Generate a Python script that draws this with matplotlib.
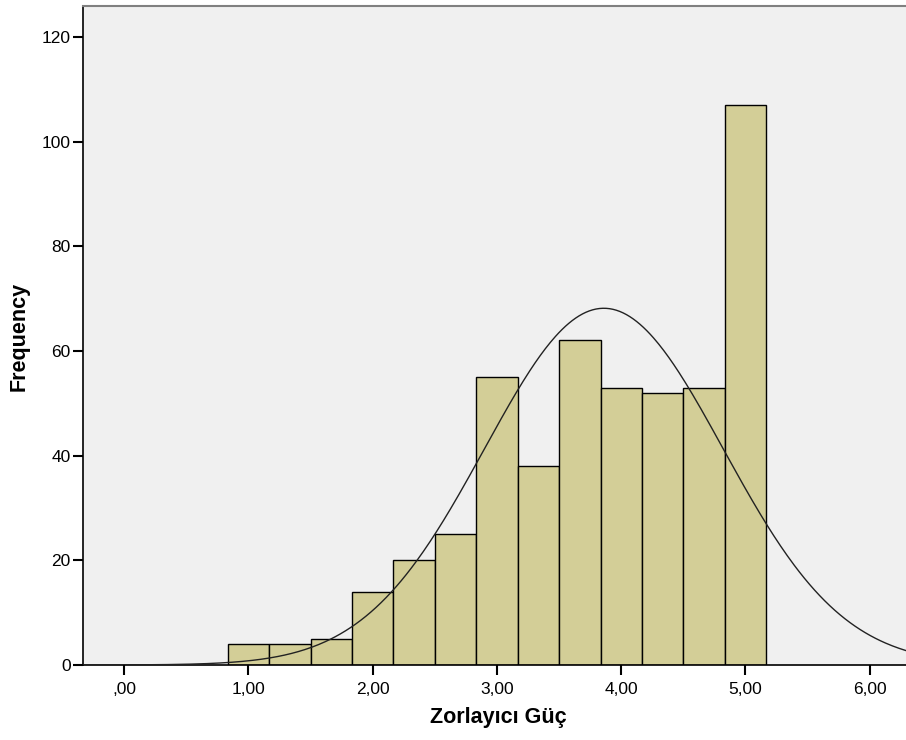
import matplotlib
matplotlib.use("Agg")
import matplotlib.pyplot as plt
import numpy as np

# Histogram bins (centers) and counts
bin_centers = [1.0, 4/3, 5/3, 2.0, 7/3, 8/3, 3.0, 10/3, 11/3, 4.0, 13/3, 14/3, 5.0]
counts = [4, 4, 5, 14, 20, 25, 55, 38, 62, 53, 52, 53, 107]
bin_width = 1/3

# normal curve parameters
curve_mean = 3.86
curve_sd = 0.96

x_ticks = [0, 1, 2, 3, 4, 5, 6]
x_ticklabels = [",00", "1,00", "2,00", "3,00", "4,00", "5,00", "6,00"]
y_ticks = [0, 20, 40, 60, 80, 100, 120]

plt.rcParams['font.family'] = ['Liberation Sans', 'DejaVu Sans']

fig = plt.figure(figsize=(9.06, 7.40), dpi=100)
ax = fig.add_axes([83/906, 75/740, 1 - 83/906, (665 - 6)/740])
ax.set_facecolor('#F0F0F0')

ax.bar(bin_centers, counts, width=bin_width, color='#D3CE97',
       edgecolor='black', linewidth=1.0, zorder=2)

n = sum(counts)
xs = np.linspace(-0.4, 6.4, 500)
ys = n * bin_width / (curve_sd * np.sqrt(2 * np.pi)) * np.exp(-0.5 * ((xs - curve_mean) / curve_sd) ** 2)
ax.plot(xs, ys, color='#222222', linewidth=1.0, zorder=3)

ax.set_xlim(-0.332, 6.292)
ax.set_ylim(0, 125.9)

ax.set_xticks(x_ticks)
ax.set_xticklabels(x_ticklabels)
ax.set_yticks(y_ticks)
ax.tick_params(axis='both', direction='out', length=7, width=1.5, labelsize=12.5,
               colors='black', pad=2)
ax.tick_params(axis='x', pad=5)

for side in ['left', 'bottom']:
    ax.spines[side].set_color('black')
    ax.spines[side].set_linewidth(1.2)
ax.spines['top'].set_color('#808080')
ax.spines['top'].set_linewidth(1.5)
ax.spines['right'].set_visible(False)

fig.text(498/906, 1 - 718/740, 'Zorlayıcı Güç', fontsize=15.5, fontweight='bold',
         ha='center', va='center')
fig.text(19/906, 1 - 336/740, 'Frequency', fontsize=15.5, fontweight='bold',
         ha='center', va='center', rotation=90)

fig.savefig('out.png', dpi=100)
